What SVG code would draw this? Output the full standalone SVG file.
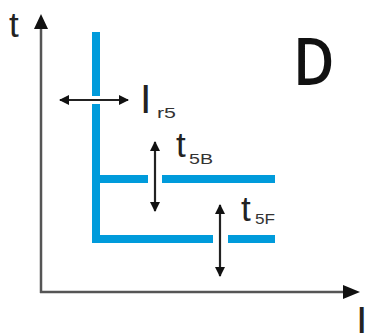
<svg xmlns="http://www.w3.org/2000/svg" width="365" height="333" viewBox="0 0 365 333">
<defs>
<marker id="ah" markerWidth="10" markerHeight="10" refX="9" refY="5" orient="auto-start-reverse" markerUnits="userSpaceOnUse"><path d="M0,0 L10,5 L0,10 Z" fill="#111"/></marker>
<style>
.axis{stroke:#555;stroke-width:2.5;fill:none}
.blue{stroke:#009bdb;stroke-width:8;fill:none;stroke-linecap:butt}
.arr{stroke:#222;stroke-width:2.2;fill:none}
.lbl{font-family:"Liberation Sans",Arial,sans-serif;fill:#222}
.sub{font-family:"Liberation Sans",Arial,sans-serif;fill:#333;font-size:15px}
</style>
</defs>
<rect width="365" height="333" fill="#fff"/>
<g id="axes">
<path class="axis" d="M41,293 V26"/>
<path class="axis" d="M40,292 H346"/>
<path d="M34,29 L41,14 L48,29 Z" fill="#111"/>
<path d="M343,285 L360,292 L343,299 Z" fill="#111"/>
</g>
<g id="curve">
<path class="blue" d="M96,32 V96"/>
<path class="blue" d="M96,104 V243"/>
<path class="blue" d="M92,179 H148"/>
<path class="blue" d="M162,179 H275"/>
<path class="blue" d="M92,239 H213"/>
<path class="blue" d="M228,239 H275"/>
</g>
<g id="connectors">
<path class="arr" d="M60,100 H128" marker-start="url(#ah)" marker-end="url(#ah)"/>
<path class="arr" d="M155,142 V211" marker-start="url(#ah)" marker-end="url(#ah)"/>
<path class="arr" d="M220,205 V276" marker-start="url(#ah)" marker-end="url(#ah)"/>
</g>
<g id="labels">
<text class="lbl" x="9" y="37" font-size="35">t</text>
<text class="lbl" x="140" y="113" font-size="41">I</text>
<text class="sub" x="157" y="118" textLength="19" lengthAdjust="spacingAndGlyphs">r5</text>
<text class="lbl" x="176" y="157" font-size="35">t</text>
<text class="sub" x="189" y="164" textLength="24" lengthAdjust="spacingAndGlyphs">5B</text>
<text class="lbl" x="241" y="221" font-size="35">t</text>
<text class="sub" x="255" y="224" textLength="20" lengthAdjust="spacingAndGlyphs">5F</text>
<text transform="translate(293,85) scale(0.86,1)" x="0" y="0" font-family="'Open Sans','DejaVu Sans',sans-serif" font-weight="600" font-size="66" fill="#111">D</text>
<text class="lbl" x="356" y="335" font-size="41">I</text>
</g>
</svg>
